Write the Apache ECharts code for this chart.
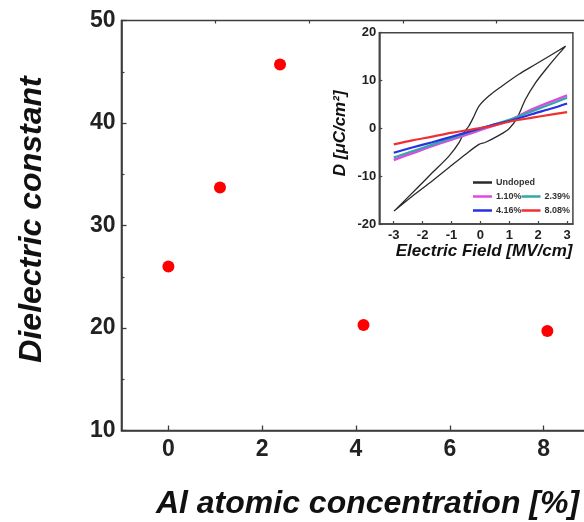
<!DOCTYPE html>
<html>
<head>
<meta charset="utf-8">
<script src="https://cdn.jsdelivr.net/npm/echarts@6/dist/echarts.min.js"></script>
<style>
html,body{margin:0;padding:0;background:#fff;}
#chart{width:584px;height:522px;}
</style>
</head>
<body>
<div id="chart"></div>
<script>
// ---- main chart data ----
const alConc = [0, 1.10, 2.38, 4.16, 8.08];
const dielectric = [26.0, 33.7, 45.7, 20.3, 19.7];
const mainXTicks = [0, 2, 4, 6, 8];
const mainXMinorTicks = [1, 3, 5, 7];

// ---- inset (D-E loops) data ----
const insetXTicks = [-3, -2, -1, 0, 1, 2, 3];
const undopedE = [2.95, 2.49, 1.91, 1.33, 0.75, 0.29, -0.05, -0.22, -0.40, -0.57, -0.74, -1.09, -1.67, -2.24, -2.99,
                  -2.36, -1.67, -1.09, -0.51, -0.05, 0.18, 0.64, 0.99, 1.27, 1.56, 1.91, 2.26, 2.60, 2.95];
const undopedD = [17.2, 15.5, 13.4, 11.3, 8.85, 6.76, 4.67, 2.58, 0.49, -0.9, -3.0, -5.8, -9.3, -12.8, -17.3,
                  -14.2, -11.0, -8.2, -5.4, -3.35, -2.9, -1.46, -0.07, 2.2, 6.07, 9.55, 12.3, 14.8, 17.2];
const dopedE = [-3, -2.36, -1.67, -0.97, -0.28, 0.41, 1.1, 1.8, 2.49, 3];
const d110 = [-6.6, -5.2, -3.7, -2.3, -0.9, 0.5, 1.9, 4.0, 5.7, 6.9];
const d239 = [-6.1, -4.8, -3.4, -2.0, -0.6, 0.7, 2.0, 3.6, 5.2, 6.4];
const d416 = [-5.1, -4.0, -2.9, -1.7, -0.5, 0.7, 1.7, 3.0, 4.2, 5.2];
const d808 = [-3.35, -2.5, -1.74, -0.9, -0.2, 0.49, 1.53, 2.23, 2.93, 3.4];
const seriesNames = ['Undoped', '1.10%', '2.39%', '4.16%', '8.08%'];
const seriesColors = ['#2a2a2a', '#e048e0', '#30a8a8', '#2830e0', '#f03030'];

const FF = "'Liberation Sans', Arial, sans-serif";
const pair = (xs, ys) => xs.map((x, i) => [x, ys[i]]);

const chart = echarts.init(document.getElementById('chart'), null, {renderer: 'canvas'});

const axisLineStyle = {color: '#3c3c3c', width: 1.6};

const legendBase = {
  orient: 'horizontal',
  icon: 'rect',
  itemWidth: 19,
  itemHeight: 2.5,
  itemGap: 0,
  padding: 0,
  textStyle: {fontFamily: FF, fontSize: 9, fontWeight: 'bold', color: '#333', padding: [0, 0, 0, -1]},
  selectedMode: false
};

const option = {
  animation: false,
  backgroundColor: '#fff',
  grid: [
    {left: 121.5, top: 20.5, width: 469, height: 410, show: true, borderColor: '#3c3c3c', borderWidth: 1.6,
     backgroundColor: 'transparent', containLabel: false, outerBoundsMode: 'none'},
    {left: 379.3, top: 32.7, width: 193.6, height: 191.3, show: true, borderColor: '#444', borderWidth: 1.5,
     backgroundColor: '#fff', containLabel: false, outerBoundsMode: 'none'}
  ],
  xAxis: [
    {
      gridIndex: 0, type: 'value', min: -1, max: 9,
      axisLine: {show: true, onZero: false, lineStyle: axisLineStyle},
      axisTick: {show: true, inside: true, length: 5, lineStyle: {color: '#3c3c3c', width: 1.3}, customValues: mainXTicks},
      axisLabel: {customValues: mainXTicks, fontFamily: FF, fontSize: 23, fontWeight: 'bold', color: '#222', margin: 8},
      splitLine: {show: false},
      name: 'Al atomic concentration [%]', nameLocation: 'middle', nameGap: 58,
      nameTextStyle: {fontFamily: FF, fontSize: 32, fontWeight: 'bold', fontStyle: 'italic', color: '#111', padding: [0, 0, 0, 23]}
    },
    {
      gridIndex: 0, type: 'value', min: -1, max: 9,
      axisLine: {show: false, onZero: false},
      axisTick: {show: true, inside: true, length: 3, lineStyle: {color: '#3c3c3c', width: 1.2}, customValues: mainXMinorTicks},
      axisLabel: {show: false},
      splitLine: {show: false}
    },
    {
      gridIndex: 1, type: 'value', min: -3.5, max: 3.2,
      axisLine: {show: true, onZero: false, lineStyle: {color: '#444', width: 1.5}},
      axisTick: {show: true, inside: true, length: 3, lineStyle: {color: '#444', width: 1.2}, customValues: insetXTicks},
      axisLabel: {customValues: insetXTicks, fontFamily: FF, fontSize: 13, fontWeight: 'bold', color: '#222', margin: 5},
      splitLine: {show: false},
      name: 'Electric Field [MV/cm]', nameLocation: 'middle', nameGap: 15,
      nameTextStyle: {fontFamily: FF, fontSize: 17, fontWeight: 'bold', fontStyle: 'italic', color: '#111', padding: [0, 0, 0, 16]}
    }
  ],
  yAxis: [
    {
      gridIndex: 0, type: 'value', min: 10, max: 50, interval: 10,
      axisLine: {show: true, onZero: false, lineStyle: axisLineStyle},
      axisTick: {show: true, inside: true, length: 5, lineStyle: {color: '#3c3c3c', width: 1.3}},
      minorTick: {show: true, splitNumber: 2, length: 3, lineStyle: {color: '#3c3c3c', width: 1.2}},
      axisLabel: {fontFamily: FF, fontSize: 23, fontWeight: 'bold', color: '#222', margin: 6},
      splitLine: {show: false},
      name: 'Dielectric constant', nameLocation: 'middle', nameGap: 73,
      nameTextStyle: {fontFamily: FF, fontSize: 32, fontWeight: 'bold', fontStyle: 'italic', color: '#111', padding: [0, 0, 0, 12]}
    },
    {
      gridIndex: 1, type: 'value', min: -20, max: 20, interval: 10,
      axisLine: {show: true, onZero: false, lineStyle: {color: '#444', width: 1.5}},
      axisTick: {show: true, inside: true, length: 3, lineStyle: {color: '#444', width: 1.2}},
      axisLabel: {fontFamily: FF, fontSize: 13, fontWeight: 'bold', color: '#222', margin: 3},
      splitLine: {show: false},
      name: 'D [μC/cm²]', nameLocation: 'middle', nameGap: 30,
      nameTextStyle: {fontFamily: FF, fontSize: 17, fontWeight: 'bold', fontStyle: 'italic', color: '#111', padding: [0, 10, 0, 0]}
    }
  ],
  legend: [
    Object.assign({}, legendBase, {data: [seriesNames[0]], left: 473, top: 178}),
    Object.assign({}, legendBase, {data: [seriesNames[1], seriesNames[2]], left: 473, top: 192}),
    Object.assign({}, legendBase, {data: [seriesNames[3], seriesNames[4]], left: 473, top: 206})
  ],
  series: [
    {
      type: 'scatter', xAxisIndex: 0, yAxisIndex: 0,
      data: pair(alConc, dielectric),
      symbol: 'circle', symbolSize: 12,
      itemStyle: {color: '#ff0000', opacity: 1}
    },
    {
      name: seriesNames[0], type: 'line', xAxisIndex: 2, yAxisIndex: 1,
      data: pair(undopedE, undopedD), showSymbol: false, smooth: 0.3,
      lineStyle: {color: seriesColors[0], width: 1.3}, itemStyle: {color: seriesColors[0]}
    },
    {
      name: seriesNames[1], type: 'line', xAxisIndex: 2, yAxisIndex: 1,
      data: pair(dopedE, d110), showSymbol: false, smooth: 0.3,
      lineStyle: {color: seriesColors[1], width: 2.6}, itemStyle: {color: seriesColors[1]}
    },
    {
      name: seriesNames[2], type: 'line', xAxisIndex: 2, yAxisIndex: 1,
      data: pair(dopedE, d239), showSymbol: false, smooth: 0.3,
      lineStyle: {color: seriesColors[2], width: 2.2}, itemStyle: {color: seriesColors[2]}
    },
    {
      name: seriesNames[3], type: 'line', xAxisIndex: 2, yAxisIndex: 1,
      data: pair(dopedE, d416), showSymbol: false, smooth: 0.3,
      lineStyle: {color: seriesColors[3], width: 2.2}, itemStyle: {color: seriesColors[3]}
    },
    {
      name: seriesNames[4], type: 'line', xAxisIndex: 2, yAxisIndex: 1,
      data: pair(dopedE, d808), showSymbol: false, smooth: 0.3,
      lineStyle: {color: seriesColors[4], width: 2.2}, itemStyle: {color: seriesColors[4]}
    }
  ]
};
chart.setOption(option);
</script>
</body>
</html>
